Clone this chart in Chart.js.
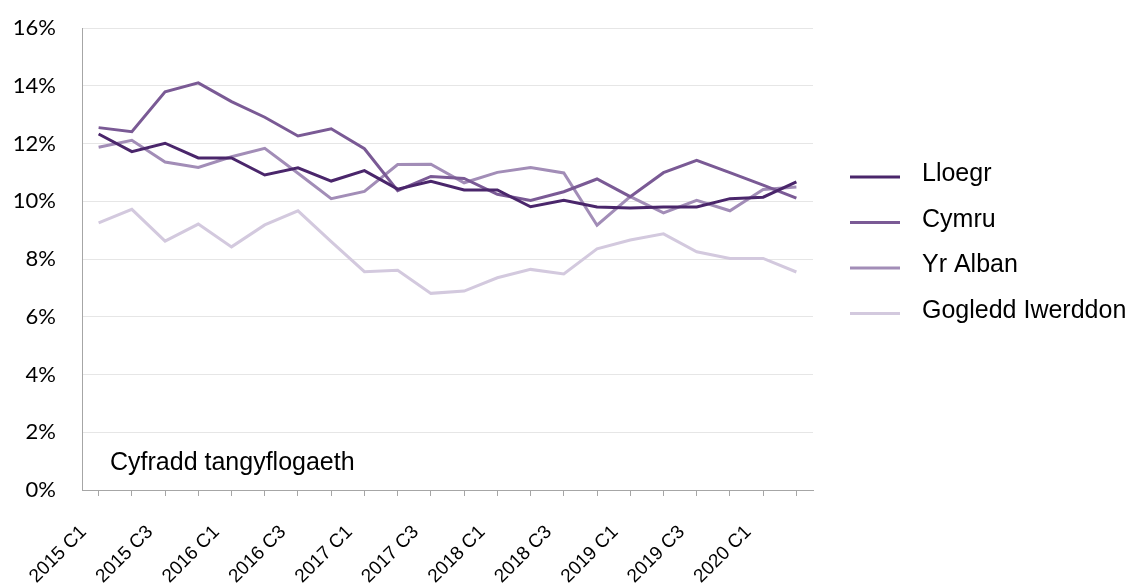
<!DOCTYPE html>
<html>
<head>
<meta charset="utf-8">
<script src="https://cdn.jsdelivr.net/npm/chart.js@4.4.1/dist/chart.umd.min.js"></script>
<style>
    html, body { margin: 0; padding: 0; background: #ffffff; }
    #chart_container { width: 1143px; height: 588px; }
</style>
</head>
<body>
<div id="chart_container"><canvas id="myLineChart"></canvas></div>
<script>
// Quarters (C = chwarter)
const quarters = [
    '2015 C1', '2015 C2', '2015 C3', '2015 C4',
    '2016 C1', '2016 C2', '2016 C3', '2016 C4',
    '2017 C1', '2017 C2', '2017 C3', '2017 C4',
    '2018 C1', '2018 C2', '2018 C3', '2018 C4',
    '2019 C1', '2019 C2', '2019 C3', '2019 C4',
    '2020 C1', '2020 C2'
];

// Underemployment rate, %
const lloegr = [12.33, 11.72, 12.01, 11.50, 11.50, 10.91, 11.16, 10.70, 11.06, 10.42, 10.69, 10.39,
    10.39, 9.81, 10.03, 9.80, 9.77, 9.80, 9.80, 10.09, 10.14, 10.67];
const cymru = [12.55, 12.41, 13.79, 14.10, 13.45, 12.91, 12.26, 12.51, 11.82, 10.37, 10.86, 10.79,
    10.24, 10.03, 10.33, 10.77, 10.16, 10.99, 11.42, 10.99, 10.56, 10.11];
const yr_alban = [11.87, 12.11, 11.36, 11.17, 11.54, 11.83, 10.97, 10.09, 10.34, 11.27, 11.28, 10.64,
    11.00, 11.17, 10.98, 9.17, 10.16, 9.60, 10.03, 9.67, 10.41, 10.49];
const gogledd_iwerddon = [9.25, 9.72, 8.62, 9.21, 8.42, 9.18, 9.67, 8.60, 7.56, 7.61, 6.81, 6.89,
    7.35, 7.64, 7.48, 8.35, 8.66, 8.87, 8.25, 8.02, 8.02, 7.55];

const series_names = ['Lloegr', 'Cymru', 'Yr Alban', 'Gogledd Iwerddon'];
const series_values = [lloegr, cymru, yr_alban, gogledd_iwerddon];
const series_colors = ['#4a266b', '#7a5a95', '#a28db7', '#d3c9de'];

const y_ticks = [0, 2, 4, 6, 8, 10, 12, 14, 16];
const note_text = 'Cyfradd tangyflogaeth';

let datasetConfig = [];
for (let i = 0; i < series_names.length; i++) {
    datasetConfig.push({
        label: series_names[i],
        data: series_values[i],
        borderColor: series_colors[i],
        backgroundColor: series_colors[i],
        borderWidth: 3,
        fill: false,
        tension: 0
    });
}

// legend at the right, line + name
const side_legend = {
    id: 'side_legend',
    afterDraw(chart) {
        const ctx = chart.ctx;
        const area = chart.chartArea;
        ctx.save();
        ctx.font = '25px "Liberation Sans", Arial, sans-serif';
        ctx.fillStyle = '#000000';
        ctx.textAlign = 'left';
        ctx.textBaseline = 'alphabetic';
        chart.data.datasets.forEach((ds, i) => {
            const y = area.top + 149 + i * 45.5;
            ctx.strokeStyle = ds.borderColor;
            ctx.lineWidth = 3;
            ctx.beginPath();
            ctx.moveTo(area.right + 37, y);
            ctx.lineTo(area.right + 87, y);
            ctx.stroke();
            ctx.fillText(ds.label, area.right + 109, y + 4);
        });
        ctx.restore();
    }
};

// note in the bottom left corner of the plot
const corner_note = {
    id: 'corner_note',
    afterDraw(chart) {
        const ctx = chart.ctx;
        const area = chart.chartArea;
        ctx.save();
        ctx.font = '25px "Liberation Sans", Arial, sans-serif';
        ctx.fillStyle = '#000000';
        ctx.textAlign = 'left';
        ctx.textBaseline = 'alphabetic';
        ctx.fillText(note_text, area.left + 28, area.bottom - 20);
        ctx.restore();
    }
};

const ctx = document.getElementById('myLineChart').getContext('2d');
const config = {
    type: 'line',
    data: {
        labels: quarters,
        datasets: datasetConfig
    },
    options: {
        responsive: true,
        maintainAspectRatio: false,
        animation: false,
        layout: { padding: { left: 10, right: 330, top: 28, bottom: 0 } },
        plugins: {
            legend: { display: false },
            tooltip: { enabled: false }
        },
        elements: {
            point: { radius: 0 }
        },
        scales: {
            x: {
                offset: true,
                grid: {
                    offset: false,
                    drawOnChartArea: false,
                    drawTicks: true,
                    tickLength: 6,
                    color: '#a6a6a6'
                },
                border: { color: '#a6a6a6', width: 1 },
                ticks: {
                    autoSkip: false,
                    maxRotation: 45,
                    minRotation: 45,
                    padding: 25,
                    labelOffset: -15,
                    color: '#000000',
                    font: { family: '"Liberation Sans", Arial, sans-serif', size: 19 },
                    // label every second quarter
                    callback: function (val, index) {
                        return index % 2 === 0 ? this.getLabelForValue(val) : '';
                    }
                },
                afterFit: function (scale) { scale.height = 98; }
            },
            y: {
                min: y_ticks[0],
                max: y_ticks[y_ticks.length - 1],
                grid: {
                    color: '#e6e6e6',
                    drawTicks: true,
                    tickLength: 24,
                    tickColor: 'rgba(0,0,0,0)'
                },
                border: { color: '#a6a6a6', width: 1 },
                ticks: {
                    stepSize: 2,
                    padding: 2,
                    color: '#000000',
                    font: { family: 'Lato, "Open Sans", sans-serif', size: 22 },
                    callback: function (val) { return val + '%'; }
                },
                afterFit: function (scale) { scale.width = 72; }
            }
        }
    },
    plugins: [side_legend, corner_note]
};
const myChart = new Chart(ctx, config);
</script>
</body>
</html>
